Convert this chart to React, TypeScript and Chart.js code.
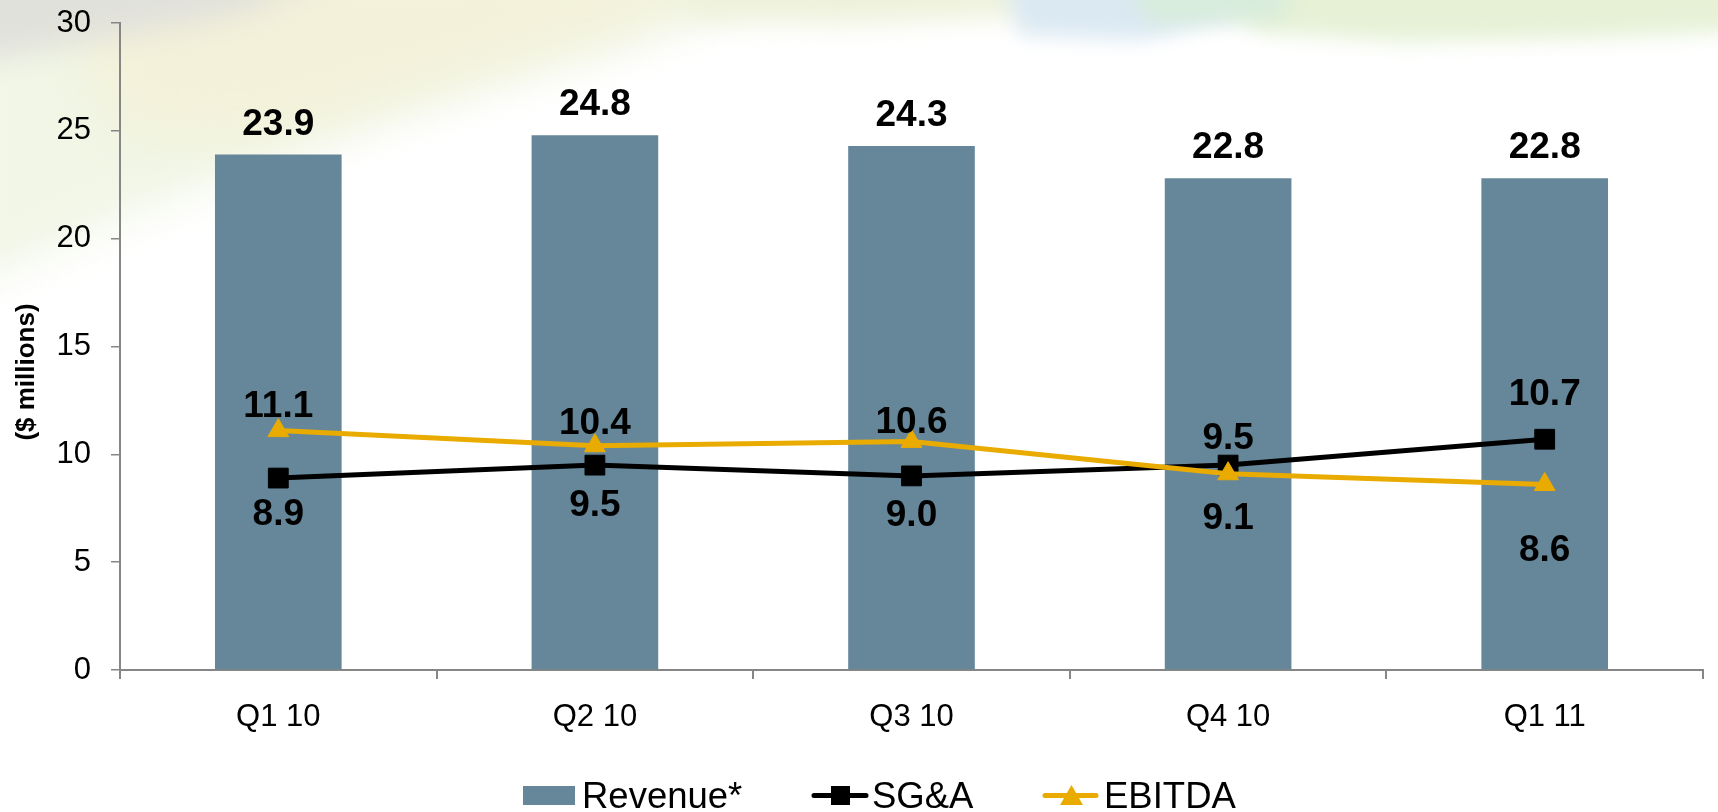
import React, { useEffect, useRef } from 'react';
import { Chart, registerables } from 'chart.js';

Chart.register(...registerables);

const categories = ['Q1 10', 'Q2 10', 'Q3 10', 'Q4 10', 'Q1 11'];
const revenue = [23.9, 24.8, 24.3, 22.8, 22.8];
const sgna = [8.9, 9.5, 9.0, 9.5, 10.7];
const ebitda = [11.1, 10.4, 10.6, 9.1, 8.6];
const yTicks = [0, 5, 10, 15, 20, 25, 30];
const seriesNames = ['Revenue*', 'SG&A', 'EBITDA'];
const yTitle = '($ millions)';

const BAR = '#66879a';
const GOLD = '#eaab00';
const AXIS = '#868686';
const FONT = '"Liberation Sans", Arial, Helvetica, sans-serif';

// label baseline offsets (px) from the point, per series
const sgnaLabelOffsets = [47, 51, 50, -16, -34];
const ebitdaLabelOffsets = [-14, -12, -8, 55, 76];

const backgroundPlugin = {
  id: 'bgDeco',
  beforeDraw(chart: any) {
    const ctx = chart.ctx as CanvasRenderingContext2D;
    ctx.save();
    ctx.fillStyle = '#ffffff';
    ctx.fillRect(0, 0, chart.width, chart.height);
    const poly = (pts: number[][], color: string, blur: number) => {
      ctx.filter = `blur(${blur}px)`;
      ctx.fillStyle = color;
      ctx.beginPath();
      ctx.moveTo(pts[0][0], pts[0][1]);
      for (let i = 1; i < pts.length; i++) ctx.lineTo(pts[i][0], pts[i][1]);
      ctx.closePath();
      ctx.fill();
    };
    poly([[-40, -40], [800, -40], [700, 20], [500, 80], [300, 150], [120, 220], [-40, 290]], '#f1f6e6', 22);
    poly([[60, -40], [760, -40], [620, 30], [420, 90], [260, 140], [120, 130], [80, 40]], '#f3f1d9', 25);
    poly([[-40, -40], [360, -40], [240, 15], [100, 40], [-40, 65]], '#e1e1db', 14);
    poly([[650, -30], [1150, -30], [1050, 15], [850, 25], [700, 22]], '#eef2dc', 12);
    poly([[1000, -30], [1270, -30], [1240, 15], [1140, 40], [1020, 35]], '#dbe9f3', 10);
    poly([[1180, -30], [1760, -30], [1760, 30], [1600, 38], [1400, 42], [1260, 32]], '#e6f1d6', 10);
    poly([[1120, -30], [1300, -30], [1280, 20], [1150, 25]], '#d8ecdc', 10);
    ctx.filter = 'none';
    ctx.restore();
  },
};

const labelsPlugin = {
  id: 'valueLabels',
  afterDatasetsDraw(chart: any) {
    const ctx = chart.ctx as CanvasRenderingContext2D;
    ctx.save();
    ctx.font = `bold 37px ${FONT}`;
    ctx.fillStyle = '#000';
    ctx.textAlign = 'center';
    ctx.textBaseline = 'alphabetic';
    chart.data.datasets.forEach((ds: any, di: number) => {
      const meta = chart.getDatasetMeta(di);
      meta.data.forEach((el: any, i: number) => {
        const v = ds.data[i] as number;
        const txt = v.toFixed(1);
        let y: number;
        if (ds.type === 'bar') y = el.y - 20;
        else if (ds.label === seriesNames[1]) y = el.y + sgnaLabelOffsets[i];
        else y = el.y + ebitdaLabelOffsets[i];
        ctx.fillText(txt, el.x, y);
      });
    });
    ctx.restore();
  },
  afterDraw(chart: any) {
    const ctx = chart.ctx as CanvasRenderingContext2D;
    ctx.save();
    ctx.translate(27, 372);
    ctx.rotate(-Math.PI / 2);
    ctx.font = `bold 26px ${FONT}`;
    ctx.fillStyle = '#000';
    ctx.textAlign = 'center';
    ctx.textBaseline = 'middle';
    ctx.fillText(yTitle, 0, 0);
    ctx.restore();

    ctx.save();
    ctx.font = `36.5px ${FONT}`;
    ctx.textAlign = 'left';
    ctx.textBaseline = 'alphabetic';
    const cy = 795.5;
    ctx.fillStyle = BAR;
    ctx.fillRect(523, 786, 52, 19);
    ctx.fillStyle = '#000';
    ctx.fillText(seriesNames[0], 582, 808);
    ctx.lineCap = 'round';
    ctx.lineWidth = 5;
    ctx.strokeStyle = '#000';
    ctx.beginPath();
    ctx.moveTo(814, cy);
    ctx.lineTo(866, cy);
    ctx.stroke();
    ctx.fillStyle = '#000';
    ctx.fillRect(831, 786, 19, 19);
    ctx.fillText(seriesNames[1], 872, 808);
    ctx.strokeStyle = GOLD;
    ctx.beginPath();
    ctx.moveTo(1045, cy);
    ctx.lineTo(1096, cy);
    ctx.stroke();
    ctx.fillStyle = GOLD;
    ctx.beginPath();
    ctx.moveTo(1071.5, 785);
    ctx.lineTo(1083, 805);
    ctx.lineTo(1060, 805);
    ctx.closePath();
    ctx.fill();
    ctx.fillStyle = '#000';
    ctx.fillText(seriesNames[2], 1104, 808);
    ctx.restore();
  },
};

export default function App() {
  const ref = useRef<HTMLCanvasElement | null>(null);
  useEffect(() => {
    if (!ref.current) return;
    const chart = new Chart(ref.current, {
      type: 'bar',
      data: {
        labels: categories,
        datasets: [
          {
            type: 'line',
            label: seriesNames[2],
            data: ebitda,
            borderColor: GOLD,
            backgroundColor: GOLD,
            borderWidth: 5,
            pointStyle: 'triangle',
            pointRadius: 12,
            pointBorderWidth: 1,
            pointBackgroundColor: GOLD,
            pointBorderColor: GOLD,
            tension: 0,
            order: 1,
          } as any,
          {
            type: 'line',
            label: seriesNames[1],
            data: sgna,
            borderColor: '#000',
            backgroundColor: '#000',
            borderWidth: 5,
            pointStyle: 'rect',
            pointRadius: 14,
            pointBorderWidth: 1,
            pointBackgroundColor: '#000',
            pointBorderColor: '#000',
            tension: 0,
            order: 2,
          } as any,
          {
            type: 'bar',
            label: seriesNames[0],
            data: revenue,
            backgroundColor: BAR,
            borderWidth: 0,
            barPercentage: 0.4,
            categoryPercentage: 1,
            order: 3,
          } as any,
        ],
      },
      options: {
        responsive: false,
        animation: false,
        devicePixelRatio: 1,
        layout: { padding: { left: 0, right: 3, top: 23, bottom: 0 } },
        plugins: {
          legend: { display: false },
          tooltip: { enabled: false },
          title: { display: false },
        },
        scales: {
          x: {
            type: 'category',
            offset: true,
            grid: {
              offset: true,
              drawOnChartArea: false,
              drawTicks: true,
              tickLength: 9,
              color: AXIS,
              lineWidth: 2,
            },
            border: { display: true, color: AXIS, width: 2 },
            ticks: {
              color: '#000',
              font: { family: FONT, size: 31 },
              padding: 20,
              maxRotation: 0,
            },
            afterFit: (s: any) => {
              s.height = 142;
              s.paddingLeft = 0;
              s.paddingRight = 0;
            },
          },
          y: {
            min: 0,
            max: 30,
            grid: {
              drawOnChartArea: false,
              drawTicks: true,
              tickLength: 9,
              color: AXIS,
              lineWidth: 1.5,
            },
            border: { display: true, color: AXIS, width: 2 },
            ticks: {
              color: '#000',
              font: { family: FONT, size: 31 },
              padding: 20,
            },
            afterBuildTicks: (s: any) => {
              s.ticks = yTicks.map((v) => ({ value: v }));
            },
            afterFit: (s: any) => {
              s.width = 120;
              s.paddingTop = 0;
              s.paddingBottom = 0;
            },
          },
        },
      } as any,
      plugins: [backgroundPlugin, labelsPlugin],
    });
    return () => chart.destroy();
  }, []);
  return (
    <div style={{ position: 'absolute', left: 0, top: 0, width: 1718, height: 812, overflow: 'hidden' }}>
      <canvas ref={ref} width={1718} height={812} style={{ display: 'block', width: 1718, height: 812 }} />
    </div>
  );
}
